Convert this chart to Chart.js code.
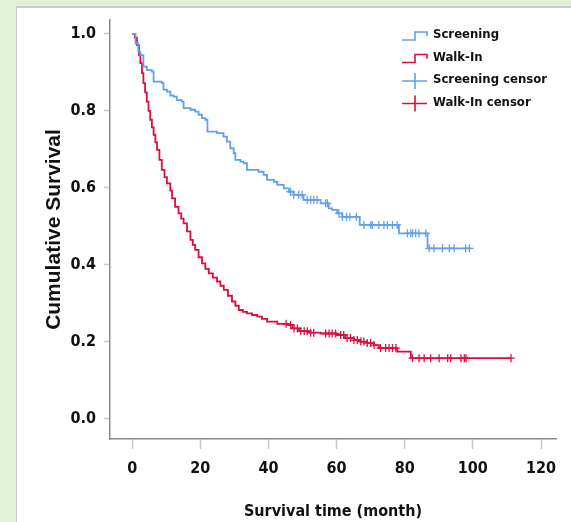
<!DOCTYPE html>
<html>
<head>
<meta charset="utf-8">
<script src="https://cdn.jsdelivr.net/npm/chart.js@4.4.1/dist/chart.umd.min.js"></script>
<style>
  html, body { margin: 0; padding: 0; }
  body { width: 571px; height: 522px; background: #e2efd9; position: relative; overflow: hidden; }
  #panel { position: absolute; left: 16px; top: 6px; right: 0; bottom: 0; background: #fff; border-top: 2px solid #c9c9c9; border-left: 1px solid #c9c9c9; }
  #wrap { position: absolute; left: 0; top: 0; width: 571px; height: 522px; }
</style>
</head>
<body>
<div id="panel"></div>
<div id="wrap"><canvas id="kmChart"></canvas></div>
<script>
// Kaplan-Meier steps (time in months, cumulative survival)
const screenTime = [0, 1.0, 1.8, 2.4, 3.3, 4.3, 5.8, 6.3, 8.7, 9.2, 10.2, 11.2, 12.2, 13.1, 14.6, 15.1, 17.1, 18.5, 19.5, 20.5,
    21.5, 22.1, 24.9, 26.8, 27.8, 28.8, 29.8, 30.3, 31.8, 32.7, 33.7, 37.1, 38.6, 39.6, 41.6, 42.6, 44.5, 46.0, 47.4, 50.3,
    55.3, 57.7, 58.7, 60.2, 61.7, 66.8, 78.3, 86.7, 99.4];
const screenSurv = [1.0, 0.975, 0.954, 0.945, 0.915, 0.906, 0.902, 0.876, 0.872, 0.855, 0.85, 0.84, 0.837, 0.828, 0.824, 0.807, 0.803, 0.798, 0.79, 0.781,
    0.777, 0.746, 0.742, 0.733, 0.72, 0.703, 0.69, 0.673, 0.668, 0.664, 0.647, 0.642, 0.634, 0.621, 0.616, 0.608, 0.599, 0.59, 0.582, 0.569,
    0.56, 0.547, 0.543, 0.534, 0.525, 0.504, 0.482, 0.443, 0.443];

const walkTime = [0, 0.8, 1.4, 2.0, 2.4, 2.9, 3.3, 3.8, 4.3, 4.8, 5.3, 5.8, 6.3, 6.8, 7.3, 8.0, 8.7, 9.5, 10.2, 11.2,
    11.7, 12.6, 13.6, 14.4, 15.1, 16.1, 17.1, 17.8, 18.5, 19.5, 20.5, 21.5, 22.5, 23.7, 24.9, 25.9, 26.9, 28.1, 29.3, 30.3,
    31.3, 32.5, 33.7, 35.2, 36.7, 38.1, 39.6, 42.6, 46.0, 47.0, 49.0, 52.0, 55.3, 60.0, 62.5, 65.0, 67.0, 69.0, 71.0, 72.4,
    77.8, 81.8, 111.2];
const walkSurv = [1.0, 0.99, 0.971, 0.945, 0.924, 0.898, 0.872, 0.848, 0.824, 0.8, 0.777, 0.757, 0.738, 0.718, 0.699, 0.673, 0.647, 0.628, 0.612, 0.593,
    0.573, 0.551, 0.534, 0.52, 0.508, 0.487, 0.465, 0.452, 0.439, 0.42, 0.404, 0.39, 0.378, 0.367, 0.357, 0.346, 0.335, 0.32, 0.305, 0.294,
    0.283, 0.278, 0.274, 0.27, 0.266, 0.26, 0.253, 0.247, 0.244, 0.235, 0.228, 0.224, 0.222, 0.218, 0.21, 0.205, 0.201, 0.197, 0.192, 0.184,
    0.175, 0.158, 0.158];

// censored cases
const screenCensorTime = [46.5, 47.4, 48.9, 49.9, 51.4, 52.4, 53.3, 54.3, 56.8, 57.3, 60.7, 61.7, 62.9, 63.9, 65.8, 68.0, 70.0, 70.5,
    72.4, 73.9, 74.9, 76.4, 77.8, 80.8, 81.8, 82.3, 83.2, 84.2, 86.2, 87.2, 88.6, 91.1, 93.1, 94.5, 97.9, 99.0];
const screenCensorSurv = [0.59, 0.582, 0.582, 0.582, 0.569, 0.569, 0.569, 0.569, 0.56, 0.56, 0.534, 0.525, 0.525, 0.525, 0.525, 0.504, 0.504, 0.504,
    0.504, 0.504, 0.504, 0.504, 0.504, 0.482, 0.482, 0.482, 0.482, 0.482, 0.482, 0.443, 0.443, 0.443, 0.443, 0.443, 0.443, 0.443];

const walkCensorTime = [45.2, 46.5, 47.5, 48.5, 49.5, 50.5, 51.4, 52.4, 53.3, 56.8, 57.8, 58.7, 59.7, 61.2, 62.1, 63.1, 64.1, 65.1, 66.1, 67.1,
    68.0, 69.0, 70.0, 71.0, 72.9, 74.4, 75.4, 76.4, 77.4, 82.3, 84.2, 85.7, 87.6, 90.1, 92.6, 93.5, 96.5, 97.5, 98.0, 111.2];
const walkCensorSurv = [0.247, 0.244, 0.235, 0.235, 0.228, 0.228, 0.228, 0.224, 0.224, 0.222, 0.222, 0.222, 0.222, 0.218, 0.218, 0.21, 0.21, 0.205, 0.205, 0.201,
    0.201, 0.197, 0.197, 0.192, 0.184, 0.184, 0.184, 0.184, 0.184, 0.158, 0.158, 0.158, 0.158, 0.158, 0.158, 0.158, 0.158, 0.158, 0.158, 0.158];

const xTicks = [0, 20, 40, 60, 80, 100, 120];
const yTicks = [0, 0.2, 0.4, 0.6, 0.8, 1.0];
const legendLabels = ["Screening", "Walk-In", "Screening censor", "Walk-In censor"];

const BLUE = "#62a0eb";
const RED = "#d9103f";
const narrow = "'Liberation Sans Narrow', 'DejaVu Sans Condensed', sans-serif";

const pts = (xs, ys) => xs.map((x, i) => ({ x: x, y: ys[i] }));

// hand drawn legend: step icons for curves, crosses for censors
const kmLegend = {
    id: 'kmLegend',
    afterDraw(chart) {
        const ctx = chart.ctx;
        ctx.save();
        ctx.lineWidth = 1.6;
        legendLabels.forEach((label, i) => {
            const y = 35 + i * 22.5;
            ctx.strokeStyle = i % 2 === 0 ? BLUE : RED;
            ctx.beginPath();
            if (i < 2) {
                ctx.moveTo(402, y + 5);
                ctx.lineTo(415, y + 5);
                ctx.lineTo(415, y - 3);
                ctx.lineTo(427, y - 3);
                ctx.lineTo(427, y + 1);
            } else {
                ctx.moveTo(402, y + 1);
                ctx.lineTo(427, y + 1);
                ctx.moveTo(415, y - 7);
                ctx.lineTo(415, y + 9);
            }
            ctx.stroke();
            ctx.fillStyle = '#111';
            ctx.font = 'bold 13px ' + narrow;
            ctx.textBaseline = 'middle';
            ctx.fillText(label, 433, y);
        });
        ctx.restore();
    }
};

const ctx = document.getElementById('kmChart').getContext('2d');

const kmChart = new Chart(ctx, {
    type: 'line',
    data: {
        datasets: [{
            label: "Screening",
            data: pts(screenTime, screenSurv),
            borderColor: BLUE,
            borderWidth: 1.8,
            stepped: true,
            fill: false,
            pointRadius: 0
        }, {
            label: "Walk-In",
            data: pts(walkTime, walkSurv),
            borderColor: RED,
            borderWidth: 1.8,
            stepped: true,
            fill: false,
            pointRadius: 0
        }, {
            label: "Screening censor",
            data: pts(screenCensorTime, screenCensorSurv),
            showLine: false,
            pointStyle: 'cross',
            pointRadius: 4,
            pointBorderWidth: 1.3,
            pointBorderColor: BLUE
        }, {
            label: "Walk-In censor",
            data: pts(walkCensorTime, walkCensorSurv),
            showLine: false,
            pointStyle: 'cross',
            pointRadius: 4,
            pointBorderWidth: 1.3,
            pointBorderColor: RED
        }]
    },
    options: {
        responsive: true,
        maintainAspectRatio: false,
        animation: false,
        layout: { padding: { left: 30, top: 20, right: 15, bottom: 0 } },
        scales: {
            x: {
                type: 'linear',
                min: -6.5,
                max: 124.4,
                afterBuildTicks: s => { s.ticks = xTicks.map(v => ({ value: v })); },
                afterFit: s => { s.height = 83; },
                border: { color: '#8a8a8a', width: 1.5 },
                grid: { drawOnChartArea: false, tickLength: 10, tickColor: '#c8c8c8', tickWidth: 1.5 },
                ticks: {
                    color: '#111',
                    padding: 10,
                    maxRotation: 0,
                    autoSkip: false,
                    font: { family: narrow, size: 16, weight: 'bold' }
                },
                title: {
                    display: true,
                    text: 'Survival time (month)',
                    color: '#111',
                    padding: { top: 0, bottom: 1 },
                    font: { family: narrow, size: 16, weight: 'bold' }
                }
            },
            y: {
                min: -0.052,
                max: 1.036,
                afterBuildTicks: s => { s.ticks = yTicks.map(v => ({ value: v })); },
                afterFit: s => { s.width = 80; },
                border: { color: '#8a8a8a', width: 1.5 },
                grid: { drawOnChartArea: false, tickLength: 6, tickColor: '#c8c8c8', tickWidth: 1.5 },
                ticks: {
                    color: '#111',
                    padding: 8,
                    font: { family: narrow, size: 16, weight: 'bold' },
                    callback: v => v.toFixed(1)
                },
                title: {
                    display: true,
                    text: 'Cumulative Survival',
                    color: '#111',
                    padding: { top: 12, bottom: 0 },
                    font: { family: "'Liberation Sans', Arial, sans-serif", size: 21, weight: 'bold' }
                }
            }
        },
        plugins: {
            legend: { display: false },
            tooltip: { enabled: false }
        }
    },
    plugins: [kmLegend]
});
</script>
</body>
</html>
